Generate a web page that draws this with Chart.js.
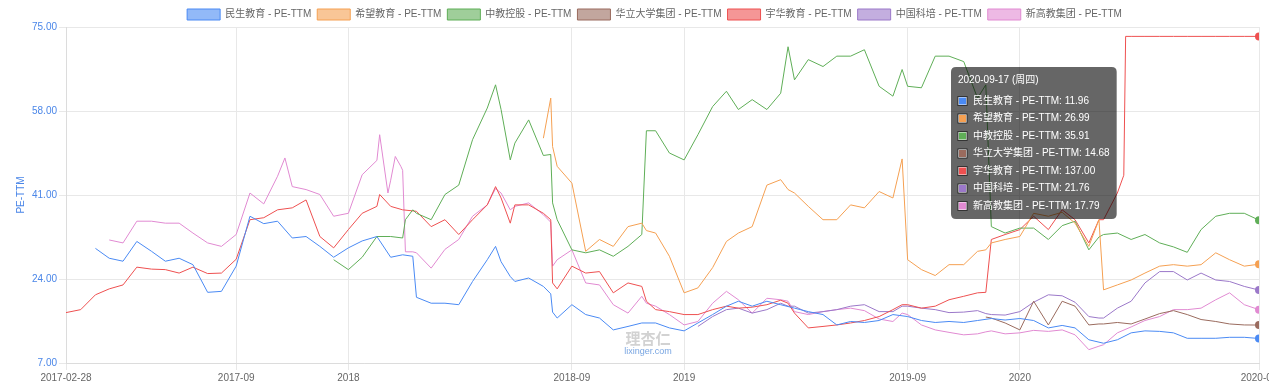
<!DOCTYPE html>
<html>
<head>
<meta charset="utf-8">
<script src="https://cdn.jsdelivr.net/npm/chart.js@4"></script>
<style>
  html, body { margin: 0; padding: 0; background: #fff; }
  #wrap { width: 1269px; height: 386px; }
</style>
</head>
<body>
<div id="wrap"><canvas id="peChart"></canvas></div>
<script>
const dates = [
  '2017-02-28','2017-03-16','2017-04-01','2017-04-16','2017-05-01','2017-05-16','2017-06-01','2017-06-16','2017-07-01','2017-07-16',
  '2017-08-01','2017-08-16','2017-09-01','2017-09-16','2017-10-01','2017-10-16','2017-10-24','2017-11-01','2017-11-16','2017-12-01','2017-12-16',
  '2018-01-01','2018-01-16','2018-02-01','2018-02-04','2018-02-13','2018-02-16','2018-02-21','2018-02-27','2018-03-01','2018-03-04','2018-03-12','2018-03-16','2018-04-01','2018-04-16',
  '2018-05-01','2018-05-16','2018-06-01','2018-06-10','2018-06-16','2018-06-26','2018-07-01','2018-07-16','2018-08-01','2018-08-09','2018-08-11','2018-08-16',
  '2018-09-01','2018-09-16','2018-10-01','2018-10-16','2018-11-01','2018-11-16','2018-11-21','2018-12-01','2018-12-16',
  '2019-01-01','2019-01-16','2019-02-01','2019-02-16','2019-03-01','2019-03-16','2019-04-01','2019-04-16','2019-04-24','2019-05-01',
  '2019-05-16','2019-06-01','2019-06-16','2019-07-01','2019-07-16','2019-08-01','2019-08-16','2019-08-26','2019-09-01','2019-09-16',
  '2019-10-01','2019-10-16','2019-11-01','2019-11-16','2019-11-25','2019-12-01','2019-12-16',
  '2020-01-01','2020-01-16','2020-02-01','2020-02-16','2020-03-01','2020-03-16','2020-03-27','2020-04-01','2020-04-16','2020-04-23',
  '2020-04-25','2020-05-01','2020-05-16','2020-06-01','2020-06-16','2020-07-01','2020-07-16','2020-08-01','2020-08-16','2020-09-01',
  '2020-09-17'
];

// 民生教育
const minshengPE = [
  null, null, 30.2, 28.2, 27.6, 31.6, 29.6, 27.6, 28.2, 26.9,
  21.3, 21.5, 26.6, 36.7, 35.2, 35.7, null, 32.3, 32.6, 30.6, 28.4,
  30.3, 31.7, 32.6, null, null, 28.4, null, null, 28.9, null, 28.6, 20.3, 19.1, 19.1,
  18.8, 23.5, 27.9, 30.6, 27.5, 24.5, 23.5, 24.2, 22.5, 21.0, 17.3, 16.1,
  18.8, 16.8, 16.1, 13.7, 14.4, 15.1, null, 15.1, 14.1,
  13.5, 15.1, 16.8, 18.5, 19.5, 18.5, 19.5, 18.8, null, 18.1,
  17.4, 16.8, 14.7, 15.4, 15.2, 15.6, 16.8, null, 16.4, 15.6,
  15.2, 15.4, 15.2, 15.6, null, 16.0, 15.7,
  16.0, 15.6, 14.1, 14.6, 14.1, 11.7, null, 11.0, 11.7, null,
  null, 13.1, 13.5, 13.4, 13.1, 12.0, 12.0, 12.0, 12.2, 12.2,
  11.96
];

// 希望教育
const xiwangPE = [
  null, null, null, null, null, null, null, null, null, null,
  null, null, null, null, null, null, null, null, null, null, null,
  null, null, null, null, null, null, null, null, null, null, null, null, null, null,
  null, null, null, null, null, null, null, null, 52.5, 60.6, 50.8, 46.8,
  43.4, 29.6, 32.0, 30.6, 34.6, 35.3, 33.8, 33.3, 28.6,
  21.2, 22.2, 26.3, 31.6, 33.3, 34.6, 43.0, 44.1, 42.1, 41.4,
  38.7, 36.0, 36.0, 39.0, 38.4, 41.7, 40.4, 48.3, 27.9, 25.9,
  24.7, 26.9, 26.9, 29.6, 29.9, 31.3, 32.0,
  32.6, 37.3, 36.7, 37.5, 35.3, 30.6, 36.0, 21.8, 22.8, null,
  null, 23.8, 25.2, 26.6, 26.9, 26.6, 26.9, 29.3, 27.9, 26.6,
  26.99
];

// 中教控股
const zhongjiaoPE = [
  null, null, null, null, null, null, null, null, null, null,
  null, null, null, null, null, null, null, null, null, null, 27.9,
  25.9, 28.4, 32.6, null, null, 32.6, null, null, 32.3, 36.0, 38.0, 37.3, 36.0, 41.1,
  43.0, 52.2, 58.6, 63.3, 58.3, 48.1, 51.5, 56.2, 49.0, 49.2, 39.4, 36.0,
  29.9, 29.3, 29.9, 28.6, 30.6, 33.0, 54.0, 54.0, 49.5,
  48.1, 53.2, 58.9, 62.0, 58.3, 60.3, 58.3, 61.6, 71.0, 64.3,
  68.4, 67.0, 69.1, 69.1, 70.4, 63.0, 61.0, 66.4, 63.0, 62.7,
  69.1, 69.1, 68.0, 60.6, 63.3, 34.6, 33.3,
  34.3, 34.3, 32.0, 34.8, 35.7, 29.9, 32.5, 33.0, 33.3, null,
  null, 32.0, 33.0, 31.3, 30.5, 29.4, 34.0, 36.7, 37.3, 37.3,
  35.91
];

// 华立大学集团
const hualiPE = [
  null, null, null, null, null, null, null, null, null, null,
  null, null, null, null, null, null, null, null, null, null, null,
  null, null, null, null, null, null, null, null, null, null, null, null, null, null,
  null, null, null, null, null, null, null, null, null, null, null, null,
  null, null, null, null, null, null, null, null, null,
  null, null, null, null, null, null, null, null, null, null,
  null, null, null, null, null, null, null, null, null, null,
  null, null, null, null, 16.3, 16.1, 15.1,
  13.7, 19.5, 14.7, 19.5, 18.5, 14.7, 14.9, 14.9, 15.2, null,
  null, 14.9, 15.9, 17.0, 17.6, 16.8, 15.8, 15.4, 14.9, 14.7,
  14.68
];

// 宇华教育
const yuhuaPE = [
  17.2, 17.8, 20.8, 22.0, 22.8, 26.4, 26.0, 25.9, 25.2, 26.4,
  25.1, 25.2, 28.0, 36.0, 36.4, 38.0, null, 38.4, 40.0, 32.6, 30.3,
  34.0, 37.3, 38.7, 41.1, null, 38.7, null, null, 38.0, null, null, 37.7, 34.6, 36.0,
  33.0, 36.0, 39.0, 42.7, 40.4, 35.3, 39.0, 39.0, 37.3, 36.0, 23.2, 22.0,
  26.6, 25.2, 25.5, 21.2, 23.2, 22.5, 19.5, 17.8, 17.4,
  16.8, 16.8, 17.8, 18.5, 18.1, 18.3, 18.8, 19.7, 19.1, 17.1,
  14.1, 14.4, 14.7, 15.1, 15.6, 16.4, 17.8, 18.8, 18.8, 18.1,
  18.5, 19.8, 20.5, 21.2, 21.3, 32.0, 33.0,
  34.0, 36.7, 34.0, 38.0, 36.0, 31.3, 36.0, 36.0, 41.4, 45.0,
  73.1, 73.1, 73.1, 73.1, 73.1, 73.1, 73.1, 73.1, 73.1, 73.1,
  73.1
];

// 中国科培
const kepeiPE = [
  null, null, null, null, null, null, null, null, null, null,
  null, null, null, null, null, null, null, null, null, null, null,
  null, null, null, null, null, null, null, null, null, null, null, null, null, null,
  null, null, null, null, null, null, null, null, null, null, null, null,
  null, null, null, null, null, null, null, null, null,
  null, 14.4, 16.4, 17.8, 18.1, 17.1, 17.8, 19.1, 18.5, 18.5,
  17.1, 17.4, 17.8, 18.5, 18.8, 17.4, 17.4, 18.5, 18.5, 18.1,
  17.8, 17.2, 17.3, 17.6, 17.0, 16.8, 16.7,
  17.4, 19.3, 20.8, 20.6, 19.3, 16.4, 16.1, 16.1, 18.1, null,
  null, 19.5, 23.2, 25.5, 25.5, 23.8, 25.2, 23.8, 23.5, 22.5,
  21.76
];

// 新高教集团
const xingaojiaoPE = [
  null, null, null, 31.9, 31.3, 35.7, 35.7, 35.3, 35.3, 33.3,
  31.3, 30.6, 33.0, 41.4, 39.2, 44.8, 48.5, 42.7, 42.1, 41.1, 36.7,
  37.3, 45.1, 48.0, 53.2, 41.4, 44.0, 48.8, 46.8, 46.0, 29.5, 29.5, 29.3, 26.2, 30.0,
  32.0, 36.7, 39.0, 42.3, 41.4, 38.0, 38.7, 39.4, 37.0, 35.5, 26.6, 27.9,
  29.9, 23.2, 22.8, 18.8, 17.1, 20.5, 19.1, 18.5, 16.8,
  14.7, 15.4, 19.1, 21.5, 19.8, 17.1, 20.1, 19.8, 19.5, 17.4,
  16.8, 17.4, 17.8, 18.1, 17.6, 15.9, 15.4, 17.1, 16.8, 14.7,
  13.7, 13.2, 12.7, 12.9, 13.3, 13.5, 12.9,
  13.1, 13.6, 13.4, 13.7, 12.7, 9.7, 10.4, 10.7, 13.1, null,
  null, 14.3, 15.6, 16.4, 17.8, 17.8, 18.1, 19.8, 21.2, 18.8,
  17.79
];

const seriesNames = ['民生教育', '希望教育', '中教控股', '华立大学集团', '宇华教育', '中国科培', '新高教集团'];
const seriesValues = [minshengPE, xiwangPE, zhongjiaoPE, hualiPE, yuhuaPE, kepeiPE, xingaojiaoPE];
// values shown in the tooltip for the last day
const latestPE = [11.96, 26.99, 35.91, 14.68, 137.00, 21.76, 17.79];

const tickDates = ['2017-02-28', '2017-09-01', '2018-01-01', '2018-09-01', '2019-01-01', '2019-09-01', '2020-01-01', '2020-09-17'];
const tickLabels = ['2017-02-28', '2017-09', '2018', '2018-09', '2019', '2019-09', '2020', '2020-09'];

const seriesColors = ['#4a8af4', '#f5a052', '#5fae57', '#9a6b5e', '#ee5050', '#9b78c9', '#e18ad2'];
const weekdays = ['周日', '周一', '周二', '周三', '周四', '周五', '周六'];

const startTime = Date.parse(dates[0]);
function toDay(d) {
  return Math.round((Date.parse(d) - startTime) / 86400000);
}

function withAlpha(hex, a) {
  const n = parseInt(hex.slice(1), 16);
  return `rgba(${(n >> 16) & 255}, ${(n >> 8) & 255}, ${n & 255}, ${a})`;
}

const lastIndex = dates.length - 1;
const axisBlue = '#4a86e8';

Chart.defaults.font.family = '"Liberation Sans", "Noto Sans CJK SC", sans-serif';
Chart.defaults.font.size = 10;

Chart.Tooltip.positioners.pinned = function () {
  return { x: 956, y: 67 };
};

const watermark = {
  id: 'watermark',
  beforeDatasetsDraw(chart) {
    const ctx = chart.ctx;
    ctx.save();
    ctx.textAlign = 'center';
    ctx.textBaseline = 'middle';
    ctx.font = 'bold 15px "Noto Sans CJK SC"';
    ctx.fillStyle = '#d2d2d2';
    ctx.fillText('理杏仁', 648, 338);
    ctx.font = '9px "Liberation Sans"';
    ctx.fillStyle = '#79a6e2';
    ctx.fillText('lixinger.com', 648, 352);
    ctx.restore();
  }
};

// nudge the legend row a little right and down, like the original
const legendShift = {
  id: 'legendShift',
  afterLayout(chart) {
    const legend = chart.legend;
    legend.left += 25;
    legend.right += 25;
    legend.top += 3;
    legend.bottom += 3;
  }
};

const datasets = seriesNames.map((name, i) => ({
  label: name + ' - PE-TTM',
  data: seriesValues[i].map((v, j) => ({ x: toDay(dates[j]), y: v })),
  borderColor: seriesColors[i],
  backgroundColor: withAlpha(seriesColors[i], 0.6),
  borderWidth: 1,
  pointRadius: ctx => (ctx.dataIndex === lastIndex ? 4 : 0),
  pointBackgroundColor: seriesColors[i],
  pointBorderWidth: 0,
  pointHitRadius: 0,
  spanGaps: true,
  tension: 0
}));

const chart = new Chart(document.getElementById('peChart'), {
  type: 'line',
  data: { datasets: datasets },
  plugins: [watermark, legendShift],
  options: {
    responsive: true,
    maintainAspectRatio: false,
    animation: false,
    events: [],
    layout: { padding: { left: 0, right: 10, top: 0, bottom: 0 } },
    scales: {
      x: {
        type: 'linear',
        min: 0,
        max: toDay(dates[lastIndex]),
        afterBuildTicks: scale => {
          scale.ticks = tickDates.map(d => ({ value: toDay(d) }));
        },
        afterFit: scale => {
          scale.paddingLeft = 0;
          scale.paddingRight = 0;
        },
        ticks: {
          autoSkip: false,
          maxRotation: 0,
          color: '#666',
          padding: 2,
          callback: (v, i) => tickLabels[i]
        },
        grid: { color: '#e8e8e8', tickLength: 7 },
        border: { color: '#dcdcdc' }
      },
      y: {
        min: 7,
        max: 75,
        afterFit: scale => {
          scale.width = 66;
        },
        ticks: {
          stepSize: 17,
          color: axisBlue,
          padding: 2,
          callback: v => v.toFixed(2)
        },
        title: {
          display: true,
          text: 'PE-TTM',
          color: axisBlue,
          padding: { top: 15, bottom: 0 }
        },
        grid: { color: '#e8e8e8', tickLength: 7 },
        border: { color: '#dcdcdc' }
      }
    },
    plugins: {
      legend: {
        labels: {
          boxWidth: 33,
          boxHeight: 11,
          padding: 6,
          color: '#666'
        }
      },
      tooltip: {
        enabled: true,
        position: 'pinned',
        xAlign: 'left',
        yAlign: 'top',
        caretSize: 0,
        caretPadding: 0,
        cornerRadius: 5,
        backgroundColor: 'rgba(0, 0, 0, 0.6)',
        padding: 7,
        titleFont: { size: 10, weight: 'normal' },
        bodyFont: { size: 10 },
        titleMarginBottom: 9,
        bodySpacing: 5.5,
        boxWidth: 9,
        boxHeight: 9,
        boxPadding: 4,
        callbacks: {
          title: () => {
            const d = dates[lastIndex];
            return `${d} (${weekdays[new Date(d).getUTCDay()]})`;
          },
          label: item => `${item.dataset.label}: ${latestPE[item.datasetIndex].toFixed(2)}`,
          labelColor: item => ({
            borderColor: 'rgba(20, 20, 20, 0.8)',
            backgroundColor: seriesColors[item.datasetIndex]
          })
        }
      }
    }
  }
});

chart.tooltip.setActiveElements(
  datasets.map((d, i) => ({ datasetIndex: i, index: lastIndex })),
  { x: 956, y: 67 }
);
chart.update();
</script>
</body>
</html>
